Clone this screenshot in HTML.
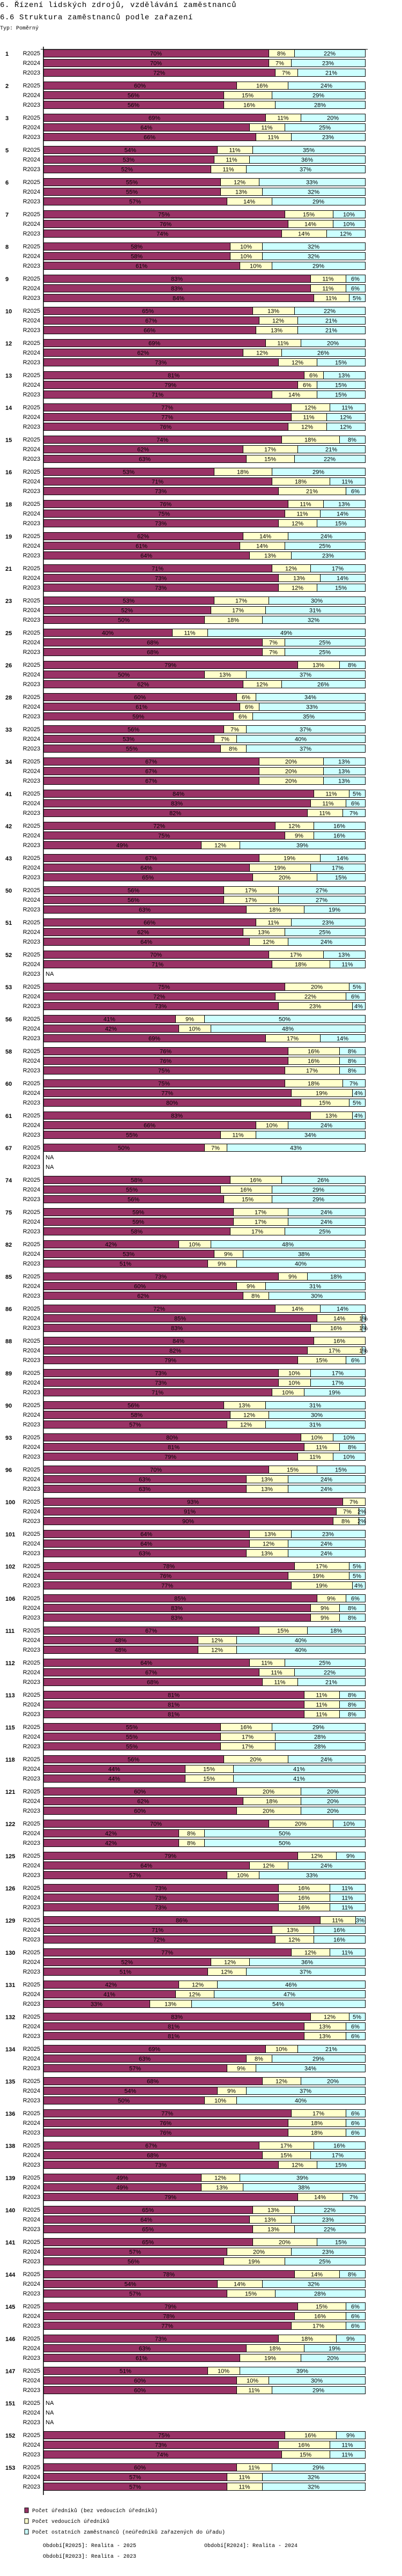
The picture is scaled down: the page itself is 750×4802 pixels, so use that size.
<!DOCTYPE html>
<html>
<head>
<meta charset="utf-8">
<style>
  html,body{margin:0;padding:0;background:#fff;}
  body{width:750px;height:4802px;position:relative;overflow:hidden;}
  svg{position:absolute;left:0;top:0;}
  .mono{font-family:"Liberation Mono",monospace;}
  .sans{font-family:"Liberation Sans",sans-serif;}
</style>
</head>
<body>
<svg id="chart" width="750" height="4802" xmlns="http://www.w3.org/2000/svg">
  <text class="mono" x="0" y="13" font-size="14" letter-spacing="0.6">6. Řízení lidských zdrojů, vzdělávání zaměstnanců</text>
  <text class="mono" x="0" y="36" font-size="14" letter-spacing="0.6">6.6 Struktura zaměstnanců podle zařazení</text>
  <text class="mono" x="0" y="55" font-size="10">Typ: Poměrný</text>
  <g id="plot"></g>
  <g id="legend">
    <rect x="46" y="4675" width="7" height="9" fill="#993366" stroke="#000" stroke-width="1"/>
    <text class="mono" x="60" y="4683" font-size="10">Počet úředníků (bez vedoucích úředníků)</text>
    <rect x="46" y="4695" width="7" height="9" fill="#ffffcc" stroke="#000" stroke-width="1"/>
    <text class="mono" x="60" y="4703" font-size="10">Počet vedoucích úředníků</text>
    <rect x="46" y="4715" width="7" height="9" fill="#ccffff" stroke="#000" stroke-width="1"/>
    <text class="mono" x="60" y="4723" font-size="10">Počet ostatních zaměstnanců (neúředníků zařazených do úřadu)</text>
    <text class="mono" x="80" y="4748" font-size="10">Období[R2025]: Realita - 2025</text>
    <text class="mono" x="381" y="4748" font-size="10">Období[R2024]: Realita - 2024</text>
    <text class="mono" x="80" y="4768" font-size="10">Období[R2023]: Realita - 2023</text>
  </g>
</svg>
<script>
const categories = [1,2,3,5,6,7,8,9,10,12,13,14,15,16,18,19,21,23,25,26,28,33,34,41,42,43,50,51,52,53,56,58,60,61,67,74,75,82,85,86,88,89,90,93,96,100,101,102,106,111,112,113,115,118,121,122,125,126,129,130,131,132,134,135,136,138,139,140,141,144,145,146,147,151,152,153];
const periods = ["R2025","R2024","R2023"];
const officials = [[70,70,72],[60,56,56],[69,64,66],[54,53,52],[55,55,57],[75,76,74],[58,58,61],[83,83,84],[65,67,66],[69,62,73],[81,79,71],[77,77,76],[74,62,63],[53,71,73],[76,75,73],[62,61,64],[71,73,73],[53,52,50],[40,68,68],[79,50,62],[60,61,59],[56,53,55],[67,67,67],[84,83,82],[72,75,49],[67,64,65],[56,56,63],[66,62,64],[70,71,null],[75,72,73],[41,42,69],[76,76,75],[75,77,80],[83,66,55],[50,null,null],[58,55,56],[59,59,58],[42,53,51],[73,60,62],[72,85,83],[84,82,79],[73,73,71],[56,58,57],[80,81,79],[70,63,63],[93,91,90],[64,64,63],[78,76,77],[85,83,83],[67,48,48],[64,67,68],[81,81,81],[55,55,55],[56,44,44],[60,62,60],[70,42,42],[79,64,57],[73,73,73],[86,71,72],[77,52,51],[42,41,33],[83,81,81],[69,63,57],[68,54,50],[77,76,76],[67,68,73],[49,49,79],[65,64,65],[65,57,56],[78,54,57],[79,78,77],[73,63,61],[51,60,60],[null,null,null],[75,73,74],[60,57,57]];
const leaders = [[8,7,7],[16,15,16],[11,11,11],[11,11,11],[12,13,14],[15,14,14],[10,10,10],[11,11,11],[13,12,13],[11,12,12],[6,6,14],[12,11,12],[18,17,15],[18,18,21],[11,11,12],[14,14,13],[12,13,12],[17,17,18],[11,7,7],[13,13,12],[6,6,6],[7,7,8],[20,20,20],[11,11,11],[12,9,12],[19,19,20],[17,17,18],[11,13,12],[17,18,null],[20,22,23],[9,10,17],[16,16,17],[18,19,15],[13,10,11],[7,null,null],[16,16,15],[17,17,17],[10,9,9],[9,9,8],[14,14,16],[16,17,15],[10,10,10],[13,12,12],[10,11,11],[15,13,13],[7,7,8],[13,12,13],[17,19,19],[9,9,9],[15,12,12],[11,11,11],[11,11,11],[16,17,17],[20,15,15],[20,18,20],[20,8,8],[12,12,10],[16,16,16],[11,13,12],[12,12,12],[12,12,13],[12,13,13],[10,8,9],[12,9,10],[17,18,18],[17,15,12],[12,13,14],[13,13,13],[20,20,19],[14,14,15],[15,16,17],[18,18,19],[10,10,11],[null,null,null],[16,16,15],[11,11,11]];
const others = [[22,23,21],[24,29,28],[20,25,23],[35,36,37],[33,32,29],[10,10,12],[32,32,29],[6,6,5],[22,21,21],[20,26,15],[13,15,15],[11,12,12],[8,21,22],[29,11,6],[13,14,15],[24,25,23],[17,14,15],[30,31,32],[49,25,25],[8,37,26],[34,33,35],[37,40,37],[13,13,13],[5,6,7],[16,16,39],[14,17,15],[27,27,19],[23,25,24],[13,11,null],[5,6,4],[50,48,14],[8,8,8],[7,4,5],[4,24,34],[43,null,null],[26,29,29],[24,24,25],[48,38,40],[18,31,30],[14,1,1],[0,1,6],[17,17,19],[31,30,31],[10,8,10],[15,24,24],[0,2,2],[23,24,24],[5,5,4],[6,8,8],[18,40,40],[25,22,21],[8,8,8],[29,28,28],[24,41,41],[20,20,20],[10,50,50],[9,24,33],[11,11,11],[3,16,16],[11,36,37],[46,47,54],[5,6,6],[21,29,34],[20,37,40],[6,6,6],[16,17,15],[39,38,7],[22,23,22],[15,23,25],[8,32,28],[6,6,6],[9,19,20],[39,30,29],[null,null,null],[9,11,11],[29,32,32]];

const NS = "http://www.w3.org/2000/svg";
const X0 = 81, X1 = 681, TOP = 92, GROUP_H = 60, ROW_H = 18, BAR_H = 14;
const colors = ["#993366","#ffffcc","#ccffff"];
const segNames = ["officials","leaders","others"];
function xScale(p){ return X0 + (X1 - X0) * p / 100; }
function yGroup(i){ return TOP + i * GROUP_H; }
function mk(tag, attrs){ const e = document.createElementNS(NS, tag); for (const k in attrs) e.setAttribute(k, attrs[k]); return e; }
const plot = document.getElementById("plot");

categories.forEach((cat, gi) => {
  const gy = yGroup(gi);
  const gl = mk("text", {x: 10, y: gy + 12, "font-size": 11, "font-weight": "bold", "class": "sans"});
  
  
  gl.textContent = cat;
  plot.appendChild(gl);
  periods.forEach((per, ri) => {
    const y = gy + ri * ROW_H;
    const rl = mk("text", {x: 75, y: y + 11, "font-size": 11, "text-anchor": "end", "class": "sans"});
    
    
    rl.textContent = per;
    plot.appendChild(rl);
    const vals = [officials[gi][ri], leaders[gi][ri], others[gi][ri]];
    if (vals[0] === null) {
      const na = mk("text", {x: 85, y: y + 11, "font-size": 11, "class": "sans"});
      
      
      na.textContent = "NA";
      plot.appendChild(na);
      return;
    }
    const total = vals[0] + vals[1] + vals[2];
    let cum = 0;
    vals.forEach((v, si) => {
      if (!v) return;
      const a = xScale(cum / total * 100), b = xScale((cum + v) / total * 100);
      cum += v;
      const r = mk("rect", {x: a + 0.5, y: y + 0.5, width: Math.max(b - a, 0.5), height: BAR_H, fill: colors[si], stroke: "#000", "stroke-width": 1});
      
      
      plot.appendChild(r);
      const t = mk("text", {x: (a + b) / 2, y: y + 11.5, "font-size": 11, "text-anchor": "middle", "class": "sans"});
      
      
      t.textContent = v + "%";
      plot.appendChild(t);
    });
  });
});

const lastY = yGroup(categories.length - 1) + 2 * ROW_H + BAR_H + 9;
const ax = mk("line", {x1: 81, y1: 87, x2: 81, y2: lastY, stroke: "#000", "stroke-width": 1.5});


plot.appendChild(ax);
const tl = mk("line", {x1: 76, y1: 92, x2: 686, y2: 92, stroke: "#000", "stroke-width": 1});


plot.appendChild(tl);
</script>
</body>
</html>
